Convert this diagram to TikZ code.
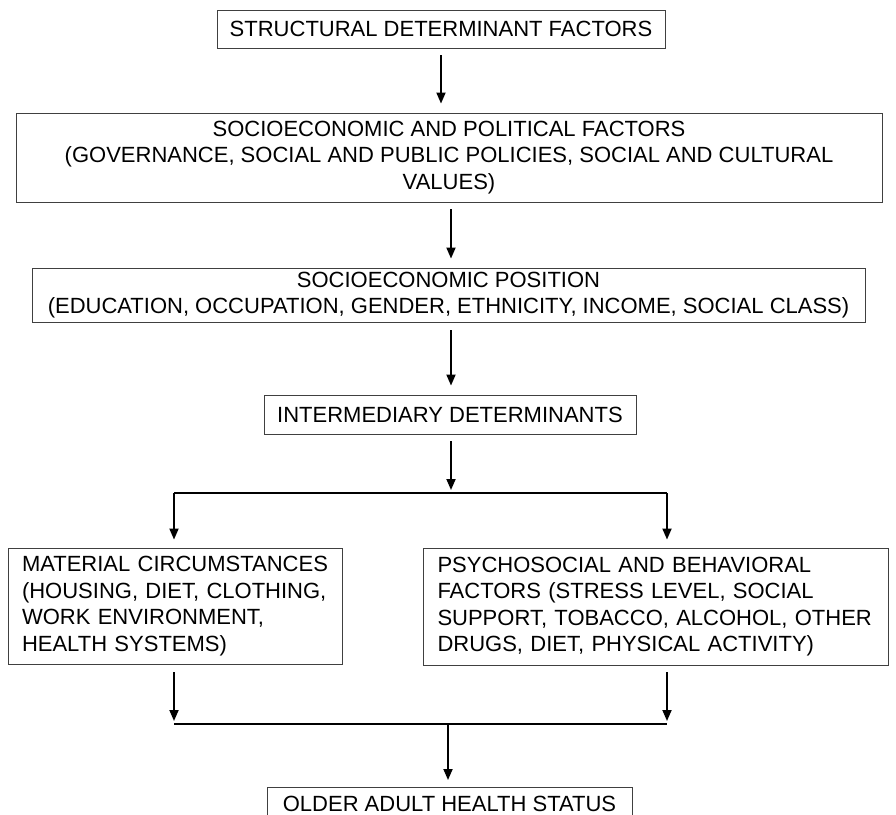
\documentclass[tikz,border=0pt]{standalone}
\usepackage{fontspec}
\setmainfont{Liberation Sans}
\usetikzlibrary{arrows.meta}

\tikzset{
    box/.style={draw=black!75, line width=0.9pt, inner sep=0pt, align=center,
        font=\fontsize{22}{26.5}\selectfont},
    lbox/.style={box, align=left},
    arr/.style={line width=1.8pt, -{Triangle[width=9pt,length=11pt]}},
    link/.style={line width=1.8pt}
}

\begin{document}
\begin{tikzpicture}[x=1pt,y=-1pt]
    \clip (0,0) rectangle (896,814);
    \useasboundingbox (0,0) rectangle (896,814);
    \fill[white] (0,0) rectangle (896,814);

    % top chain
    \node[box, minimum width=448pt, minimum height=38pt] (struct) at (441,29)
	{STRUCTURAL DETERMINANT FACTORS};
    \node[box, minimum width=866pt, minimum height=89pt] (socpol) at (449,157.5)
	{SOCIOECONOMIC AND POLITICAL FACTORS\\
	(GOVERNANCE, SOCIAL AND PUBLIC POLICIES, SOCIAL AND CULTURAL\\
	VALUES)};
    \node[box, minimum width=833pt, minimum height=54pt] (sepos) at (448.5,295)
	{SOCIOECONOMIC POSITION\\
	(EDUCATION, OCCUPATION, GENDER, ETHNICITY, INCOME, SOCIAL CLASS)};
    \node[box, minimum width=372pt, minimum height=39pt] (inter) at (450,414.5)
	{INTERMEDIARY DETERMINANTS};

    % two branches
    \node[lbox, minimum width=334pt, minimum height=116pt, text width=306pt] (material) at (175,606)
	{MATERIAL CIRCUMSTANCES\\
	(HOUSING, DIET, CLOTHING,\\
	WORK ENVIRONMENT,\\
	HEALTH SYSTEMS)};
    \node[lbox, minimum width=465pt, minimum height=117pt, text width=436pt] (psycho) at (655.5,606.5)
	{PSYCHOSOCIAL AND BEHAVIORAL\\
	FACTORS (STRESS LEVEL, SOCIAL\\
	SUPPORT, TOBACCO, ALCOHOL, OTHER\\
	DRUGS, DIET, PHYSICAL ACTIVITY)};

    % outcome
    \node[box, minimum width=365pt, minimum height=32pt, anchor=north] (older) at (449.5,787)
	{OLDER ADULT HEALTH STATUS};

    % split and join points
    \coordinate (split) at (451,493);
    \coordinate (splitl) at (174,493);
    \coordinate (splitr) at (667,493);
    \coordinate (join) at (448,724);
    \coordinate (joinl) at (174,724);
    \coordinate (joinr) at (667,724);

    \draw[arr, shorten <=7pt, shorten >=9pt] (struct.south) -- (struct.south |- socpol.north);
    \draw[arr, shorten <=7pt, shorten >=9pt] (split |- socpol.south) -- (split |- sepos.north);
    \draw[arr, shorten <=8pt, shorten >=9pt] (split |- sepos.south) -- (split |- inter.north);
    \draw[arr, shorten <=7pt, shorten >=3pt] (split |- inter.south) -- (split);
    \draw[link] (splitl) -- (splitr);
    \draw[arr, shorten >=8pt] (splitl) -- (splitl |- material.north);
    \draw[arr, shorten >=8pt] (splitr) -- (splitr |- psycho.north);
    \draw[arr, shorten <=8pt, shorten >=3pt] (joinl |- material.south) -- (joinl);
    \draw[arr, shorten <=7pt, shorten >=3pt] (joinr |- psycho.south) -- (joinr);
    \draw[link] (joinl) -- (joinr);
    \draw[arr, shorten >=7pt] (join) -- (older.north -| join);
\end{tikzpicture}
\end{document}
